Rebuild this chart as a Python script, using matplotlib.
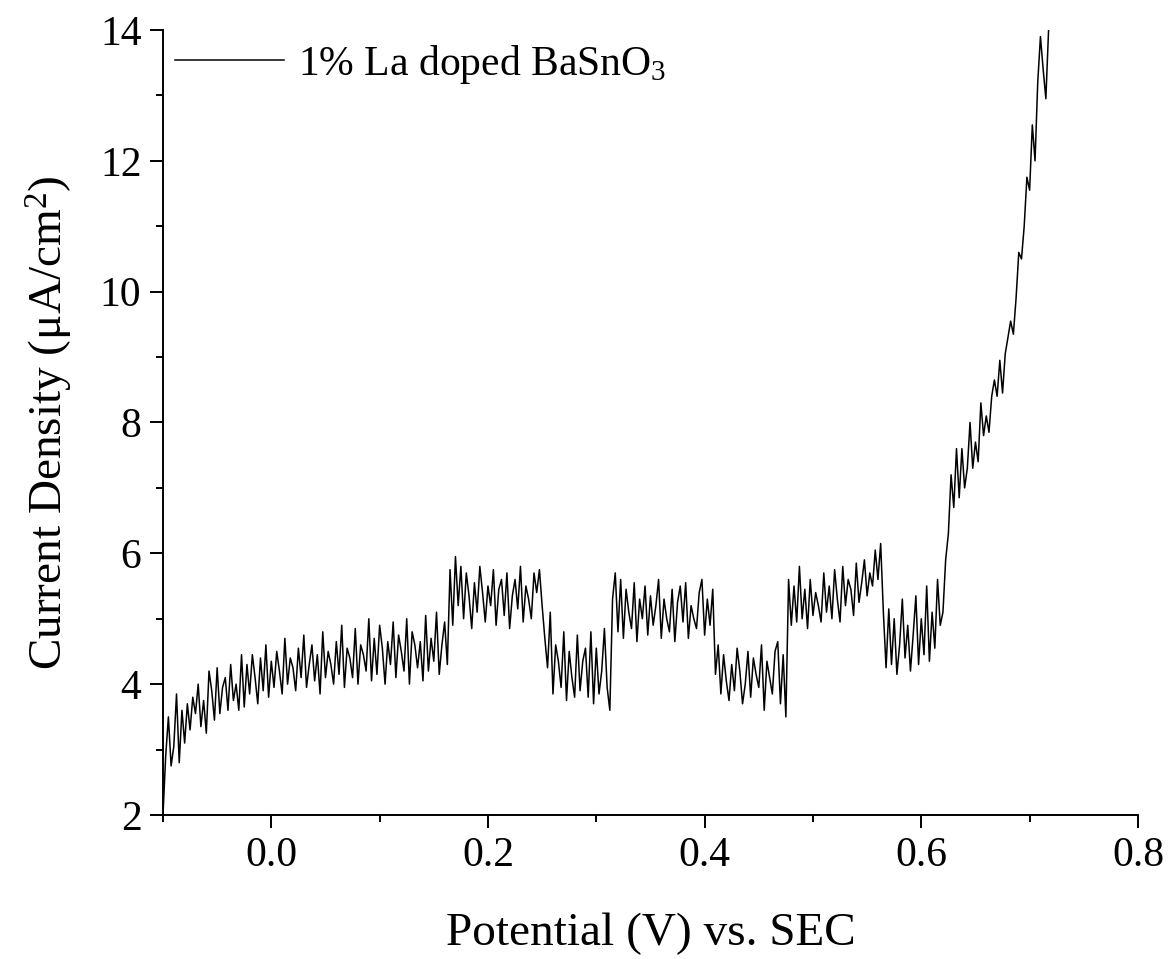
import matplotlib
matplotlib.use("Agg")
import matplotlib.pyplot as plt
from matplotlib.ticker import MultipleLocator
import numpy as np

plt.rcParams['font.family'] = ['Liberation Serif', 'DejaVu Serif']
plt.rcParams['mathtext.fontset'] = 'custom'
plt.rcParams['mathtext.rm'] = 'Liberation Serif'
plt.rcParams['mathtext.it'] = 'Liberation Serif:italic'

# sweep: start potential and step (V vs. SEC)
x_start = -0.1
x_step = 0.0025

# current density (uA/cm2)
current = [
    2.0, 2.9, 3.5, 2.75, 3.05, 3.85, 2.8, 3.6, 3.1, 3.7,
    3.3, 3.8, 3.55, 4.0, 3.35, 3.75, 3.25, 4.2, 3.9, 3.45,
    4.25, 3.55, 3.95, 4.1, 3.6, 4.3, 3.75, 4.0, 3.6, 4.45,
    3.65, 4.3, 3.85, 4.45, 4.1, 3.7, 4.4, 3.9, 4.6, 3.8,
    4.35, 3.95, 4.5, 4.2, 3.85, 4.7, 4.0, 4.4, 4.25, 3.9,
    4.55, 4.1, 4.75, 3.95, 4.3, 4.6, 4.05, 4.45, 3.85, 4.8,
    4.1, 4.5, 4.3, 4.0, 4.65, 4.15, 4.9, 3.95, 4.55, 4.4,
    4.1, 4.85, 4.0, 4.6, 4.45, 4.2, 5.0, 4.05, 4.7, 4.15,
    4.9, 4.55, 4.0, 4.65, 4.3, 4.95, 4.1, 4.75, 4.5, 4.2,
    5.0, 4.0, 4.8, 4.6, 4.25, 4.65, 4.05, 5.05, 4.2, 4.7,
    4.35, 5.1, 4.15, 4.6, 4.95, 4.3, 5.75, 4.9, 5.95, 5.2,
    5.8, 5.0, 5.7, 5.35, 4.85, 5.55, 5.1, 5.8, 5.4, 4.95,
    5.5, 5.2, 5.75, 4.9, 5.45, 5.6, 5.05, 5.7, 4.85, 5.35,
    5.6, 5.15, 5.8, 4.95, 5.5, 5.3, 5.0, 5.7, 5.4, 5.75,
    5.2, 4.7, 4.25, 5.1, 3.85, 4.6, 4.35, 3.95, 4.8, 3.75,
    4.5, 4.1, 3.8, 4.75, 3.9, 4.35, 4.55, 3.8, 4.8, 3.7,
    4.55, 3.85, 4.2, 4.85, 3.95, 3.6, 5.3, 5.7, 4.8, 5.6,
    4.7, 5.45, 5.1, 4.85, 5.55, 4.65, 5.3, 5.0, 5.5, 4.75,
    5.35, 4.9, 5.2, 5.6, 4.7, 5.3, 5.0, 4.8, 5.45, 4.65,
    5.25, 5.5, 4.95, 5.55, 4.7, 5.2, 5.0, 4.85, 5.4, 5.6,
    4.75, 5.3, 4.9, 5.45, 4.15, 4.6, 3.85, 4.45, 4.05, 3.75,
    4.3, 3.9, 4.55, 4.2, 3.7, 4.0, 4.5, 3.8, 4.4, 4.15,
    3.95, 4.6, 3.6, 4.35, 4.1, 3.85, 4.5, 4.65, 3.7, 4.45,
    3.5, 5.6, 4.9, 5.5, 4.95, 5.8, 5.0, 5.45, 4.85, 5.6,
    5.05, 5.4, 5.2, 4.95, 5.7, 5.1, 5.5, 5.0, 5.75, 5.3,
    4.95, 5.8, 5.2, 5.6, 5.45, 5.05, 5.85, 5.25, 5.55, 5.9,
    5.35, 5.7, 5.5, 6.05, 5.6, 6.15, 5.1, 4.25, 5.15, 4.3,
    5.0, 4.15, 4.6, 5.3, 4.4, 4.9, 4.2, 4.75, 5.35, 4.3,
    5.0, 4.45, 5.5, 4.35, 5.1, 4.55, 5.6, 4.9, 5.1, 5.9,
    6.3, 7.2, 6.7, 7.6, 6.85, 7.6, 7.0, 7.3, 8.0, 7.3,
    7.7, 7.4, 8.3, 7.8, 8.1, 7.85, 8.4, 8.65, 8.4, 8.95,
    8.45, 9.05, 9.3, 9.55, 9.35, 9.9, 10.6, 10.5, 11.0, 11.75,
    11.55, 12.55, 12.0, 13.2, 13.9, 13.4, 12.95, 14.0,
]
potential = x_start + x_step * np.arange(len(current))

series_label = '1% La doped BaSnO$_3$'
x_label = 'Potential (V) vs. SEC'
y_label = 'Current Density (\u03bcA/cm$^2$)'

fig = plt.figure(figsize=(11.7, 9.59), dpi=100)
ax = fig.add_axes([0.1393, 0.1502, 0.8333, 0.8185])
ax.plot(potential, current, color='black', linewidth=1.1, label=series_label)

ax.set_xlim(-0.1, 0.8)
ax.set_ylim(2, 14)
ax.xaxis.set_major_locator(MultipleLocator(0.2))
ax.xaxis.set_minor_locator(MultipleLocator(0.1))
ax.yaxis.set_major_locator(MultipleLocator(2))
ax.yaxis.set_minor_locator(MultipleLocator(1))
ax.xaxis.set_major_formatter(plt.FormatStrFormatter('%.1f'))

for side in ['top', 'right']:
    ax.spines[side].set_visible(False)
for side in ['left', 'bottom']:
    ax.spines[side].set_linewidth(1.4)

ax.tick_params(which='major', direction='out', length=9.5, width=1.4, labelsize=30, pad=6)
ax.tick_params(which='minor', direction='out', length=5, width=1.4)

ax.set_xlabel(x_label, fontsize=34, labelpad=27)
ax.set_ylabel(y_label, fontsize=34, labelpad=18)

ax.legend(loc='upper left', frameon=False, fontsize=30, handlelength=2.6,
          handletextpad=0.35, borderaxespad=0.1, borderpad=0.2)

fig.savefig('out.png', dpi=100)
